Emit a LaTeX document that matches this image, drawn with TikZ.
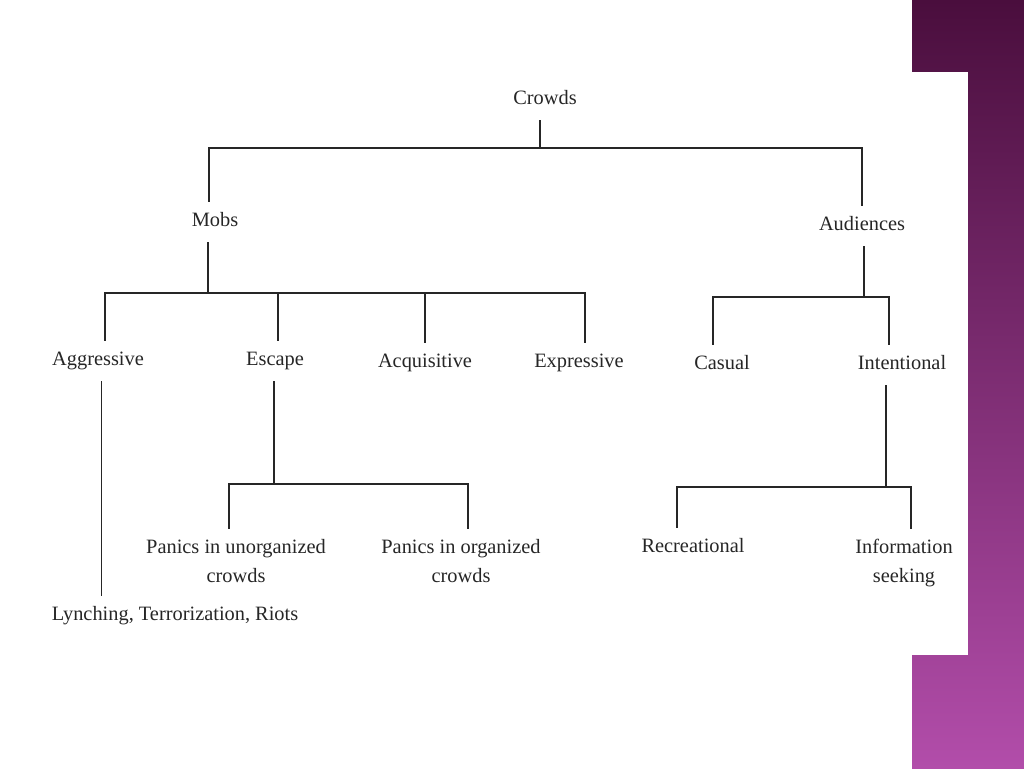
\documentclass[tikz,border=0pt]{standalone}
\usepackage{fontspec}
\setmainfont{Liberation Serif}
\usetikzlibrary{positioning}
\definecolor{inkGray}{HTML}{262626}
\definecolor{barTop}{HTML}{4A0E3D}
\definecolor{barMid}{HTML}{8A3482}
\definecolor{barBottom}{HTML}{B24DAA}
\tikzset{
  every node/.style={font=\fontsize{11.6}{16}\selectfont, text=inkGray},
  cat/.style={inner xsep=2pt, inner ysep=6pt, text height=8pt, text depth=2.5pt},
  catTwo/.style={inner xsep=2pt, inner ysep=6pt, align=center},
  link/.style={draw=inkGray, line width=0.8pt},
}

\begin{document}
\begin{tikzpicture}[x=0.02cm, y=-0.02cm]
  \useasboundingbox (0,0) rectangle (1024,768);
  % slide backdrop
  \shade[top color=barTop, middle color=barMid, bottom color=barBottom] (912,0) rectangle (1024,768);
  \fill[white] (912,72) rectangle (968,655);
  % root and first rung
  \node[cat] (crowds) at (545,100) {Crowds};
  \node[cat] (mobs)   at (215,222) {Mobs};
  \node[cat] (aud)    at (862,226) {Audiences};
  % second rung
  \node[cat] (aggr)   at (98,361)  {Aggressive};
  \node[cat] (esc)    at (275,361) {Escape};
  \node[cat] (acq)    at (425,363) {Acquisitive};
  \node[cat] (expr)   at (579,363) {Expressive};
  \node[cat] (casual) at (722,365) {Casual};
  \node[cat] (intent) at (902,365) {Intentional};
  % leaves
  \node[catTwo] (unorg) at (236,561) {Panics in unorganized\\crowds};
  \node[catTwo] (org)   at (461,561) {Panics in organized\\crowds};
  \node[cat]    (recr)  at (693,548) {Recreational};
  \node[catTwo] (info)  at (904,563) {Information\\seeking};
  \node[cat]    (lynch) at (175,616) {Lynching, Terrorization, Riots};
  % junctions
  \coordinate (jRoot) at (540,148);
  \coordinate (jMobs) at (208,293);
  \coordinate (jAud)  at (864,297);
  \coordinate (jEsc)  at (274,484);
  \coordinate (jInt)  at (886,487);
  % branches
  \draw[link] (crowds.south -| jRoot) -- (jRoot);
  \draw[link] (jRoot) -| ([xshift=-0.12cm]mobs.north);
  \draw[link] (jRoot) -| (aud.north);
  \draw[link] (mobs.south -| jMobs) -- (jMobs);
  \draw[link] (jMobs) -| ([xshift=0.14cm]aggr.north);
  \draw[link] (jMobs) -| ([xshift=0.06cm]esc.north);
  \draw[link] (jMobs) -| (acq.north);
  \draw[link] (jMobs) -| ([xshift=0.12cm]expr.north);
  \draw[link] (aud.south -| jAud) -- (jAud);
  \draw[link] (jAud) -| ([xshift=-0.18cm]casual.north);
  \draw[link] (jAud) -| ([xshift=-0.26cm]intent.north);
  \draw[link] ([xshift=0.07cm]aggr.south) -- ([xshift=0.07cm]aggr.south |- lynch.north);
  \draw[link] (esc.south -| jEsc) -- (jEsc);
  \draw[link] (jEsc) -| ([xshift=-0.14cm]unorg.north);
  \draw[link] (jEsc) -| ([xshift=0.14cm]org.north);
  \draw[link] (intent.south -| jInt) -- (jInt);
  \draw[link] (jInt) -| ([xshift=-0.32cm]recr.north);
  \draw[link] (jInt) -| ([xshift=0.14cm]info.north);
\end{tikzpicture}
\end{document}
